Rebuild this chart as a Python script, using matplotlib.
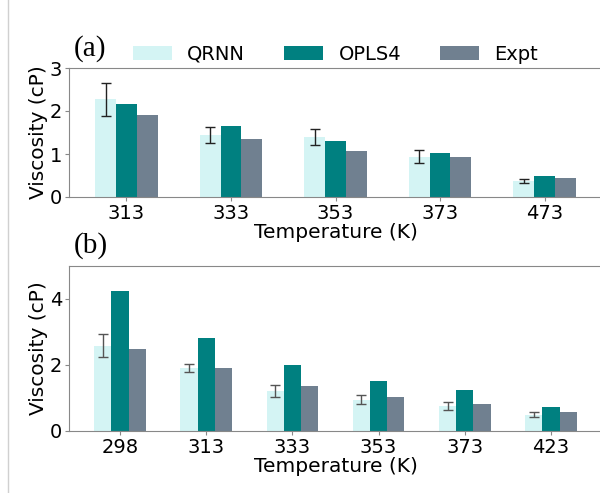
import numpy as np
import matplotlib
matplotlib.use('Agg')
import matplotlib.pyplot as plt
from matplotlib.lines import Line2D

# panel (a)
temps_a = ['313', '333', '353', '373', '473']
qrnn_a = [2.27, 1.45, 1.40, 0.94, 0.37]
qrnn_err_a = [0.375, 0.185, 0.18, 0.16, 0.045]
opls4_a = [2.16, 1.65, 1.31, 1.03, 0.49]
expt_a = [1.90, 1.36, 1.06, 0.93, 0.44]

# panel (b)
temps_b = ['298', '313', '333', '353', '373', '423']
qrnn_b = [2.59, 1.91, 1.20, 0.95, 0.75, 0.50]
qrnn_err_b = [0.345, 0.135, 0.18, 0.13, 0.115, 0.085]
opls4_b = [4.24, 2.82, 1.99, 1.52, 1.24, 0.74]
expt_b = [2.50, 1.92, 1.36, 1.03, 0.83, 0.59]

c_qrnn = '#d4f4f4'
c_opls = '#008080'
c_expt = '#708090'
w = 0.2


def draw_panel(ax, temps, qrnn, qerr, opls, expt, ecol, margin):
    x = np.arange(len(temps))
    ax.bar(x - w, qrnn, w, color=c_qrnn, label='QRNN', linewidth=0)
    ax.bar(x, opls, w, color=c_opls, label='OPLS4', linewidth=0)
    ax.bar(x + w, expt, w, color=c_expt, label='Expt', linewidth=0)
    ax.errorbar(x - w, qrnn, yerr=qerr, fmt='none', ecolor=ecol,
                elinewidth=1, capsize=3.5, capthick=1)
    ax.set_xticks(x)
    ax.set_xticklabels(temps)
    ax.set_xlim(-margin, len(temps) - 1 + margin)
    ax.set_xlabel('Temperature (K)', fontsize=14.5, labelpad=0)
    ax.set_ylabel('Viscosity (cP)', fontsize=14.5, labelpad=1)
    ax.tick_params(labelsize=14, length=3, color='#888888', pad=2)
    for s in ['left', 'bottom', 'top']:
        ax.spines[s].set_color('#888888')
    ax.spines['right'].set_visible(False)


fig = plt.figure(figsize=(6, 4.93), dpi=100)
ax1 = fig.add_axes([69 / 600, 1 - 197 / 493, 533 / 600, 129 / 493])
ax2 = fig.add_axes([69 / 600, 1 - 431 / 493, 533 / 600, 165 / 493])

draw_panel(ax1, temps_a, qrnn_a, qrnn_err_a, opls4_a, expt_a, '#222222', 0.55)
ax1.set_ylim(0, 3)
ax1.set_yticks([0, 1, 2, 3])
ax1.legend(loc='center', bbox_to_anchor=(0.5, 1.108), ncol=3,
           frameon=False, fontsize=14)

draw_panel(ax2, temps_b, qrnn_b, qrnn_err_b, opls4_b, expt_b, '#555555', 0.59)
ax2.set_ylim(0, 5)
ax2.set_yticks([0, 2, 4])

fig.text(74 / 600, 1 - 49 / 493, '(a)', family='Liberation Serif',
         fontsize=21, va='center', ha='left')
fig.text(74 / 600, 1 - 246 / 493, '(b)', family='Liberation Serif',
         fontsize=21, va='center', ha='left')

fig.add_artist(Line2D([7.5 / 600, 7.5 / 600], [0, 1], color='#d0d0d0',
                      linewidth=1, transform=fig.transFigure))

fig.savefig('out.png', dpi=100)
